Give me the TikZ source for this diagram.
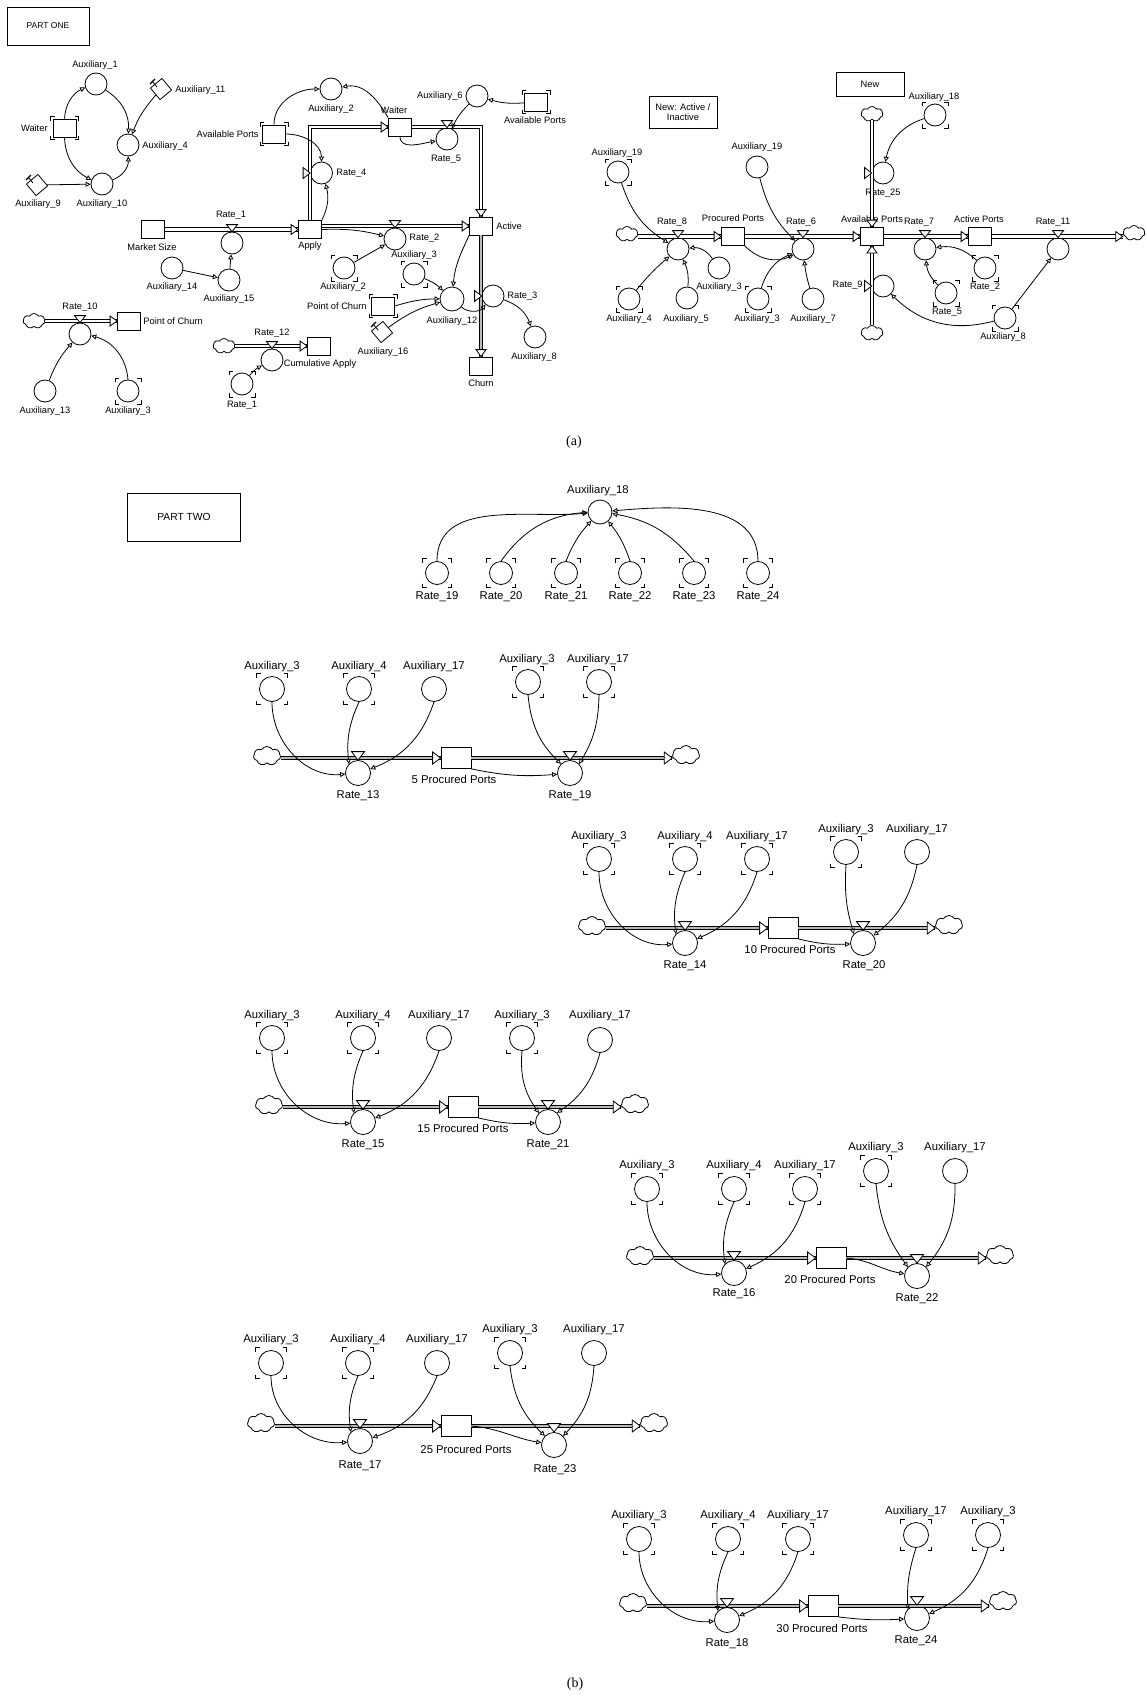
\documentclass[tikz,border=0pt]{standalone}
\usepackage{fontspec}
\setmainfont{Liberation Sans}
\newfontfamily\capfont{Liberation Serif}
\usetikzlibrary{arrows.meta,shapes.symbols,shapes.geometric,calc}
\newcommand\shmark[3]{%
  \begin{scope}[shift={(#1)}]
    \draw[brk] (-#2,-#3+4) -- (-#2,-#3) -- (-#2+4,-#3);
    \draw[brk] (#2,-#3+4) -- (#2,-#3) -- (#2-4,-#3);
    \draw[brk] (-#2,#3-4) -- (-#2,#3) -- (-#2+4,#3);
    \draw[brk] (#2,#3-4) -- (#2,#3) -- (#2-4,#3);
  \end{scope}}
\newcommand\pinon[1]{%
  \draw[line width=0.8pt] ($(#1)+(-9,-8)$) -- ($(#1)+(-4,-2)$);
  \draw[line width=1.4pt] ($(#1)+(-11,-5)$) -- ($(#1)+(-6,-10)$);}
\tikzset{
  every node/.style={inner sep=0pt},
  aux/.style={circle, draw, minimum size=22pt, fill=white},
  auxb/.style={circle, draw, minimum size=25pt, fill=white},
  stk/.style={rectangle, draw, minimum width=23pt, minimum height=18pt, fill=white},
  stkb/.style={rectangle, draw, minimum width=30pt, minimum height=21pt, fill=white},
  dia/.style={rectangle, draw, minimum size=15pt, rotate=40, fill=white},
  cld/.style={cloud, cloud puffs=7, cloud puff arc=120, aspect=1.5, draw, minimum width=22pt, minimum height=15pt, fill=white},
  cldb/.style={cld, minimum width=27pt, minimum height=19pt},
  frm/.style={rectangle, draw},
  lb/.style={font=\fontsize{9.3}{11}\selectfont},
  lbb/.style={font=\fontsize{11.3}{13}\selectfont},
  inf/.style={-{Triangle[open, length=5pt, width=5pt]}},
  pipe/.style={double distance=2.6pt},
  pipeg/.style={double=gray!55, double distance=2.8pt},
  valve/.style={draw, fill=white},
  brk/.style={line width=0.9pt},
  vd/.pic={\draw[valve] (-5.5,-7) -- (5.5,-7) -- (0,0) -- cycle;},
  vdb/.pic={\draw[valve] (-6.5,-8.5) -- (6.5,-8.5) -- (0,0) -- cycle;},
  vr/.pic={\draw[valve] (-7,-5.5) -- (-7,5.5) -- (0,0) -- cycle;},
  tipr/.pic={\draw[valve] (0,0) -- (-7,-5) -- (-7,5) -- cycle;},
  tiprb/.pic={\draw[valve] (0,0) -- (-8,-6) -- (-8,6) -- cycle;},
}
\begin{document}
\begin{tikzpicture}[x=1pt, y=-1pt, line width=0.8pt]
\fill[white] (0,0) rectangle (1146,1700);
\useasboundingbox (0,0) rectangle (1146,1700);

% ================= PART ONE, left =================
\node[frm, minimum width=82pt, minimum height=38pt, font=\fontsize{8.5}{10}\selectfont] (p1) at (48,26) {PART ONE};
\node[aux] (a1) at (96,84) {}; \node[lb] (la1) at (95,65) {Auxiliary\_1};
\node[dia] (a11) at (161,89) {}; \node[lb, anchor=west] (la11) at (175,90) {Auxiliary\_11};
\node[stk] (w1) at (64.5,128) {}; \node[lb, anchor=east] (lw1) at (48,128) {Waiter};
\node[aux] (a4) at (128,145) {}; \node[lb, anchor=west] (la4) at (142,146) {Auxiliary\_4};
\node[dia] (a9) at (37,185) {}; \node[lb] (la9) at (38,204) {Auxiliary\_9};
\node[aux] (a10) at (102,184) {}; \node[lb] (la10) at (102,204) {Auxiliary\_10};

\node[stk] (ap1) at (274,134) {}; \node[lb, anchor=east] (lap1) at (259,134) {Available Ports};
\node[aux] (a2t) at (331,89) {}; \node[lb] (la2t) at (331,109) {Auxiliary\_2};
\node[stk] (w2) at (400,127) {}; \node[lb] (lw2) at (394,110) {Waiter};
\node[aux] (r4) at (321.5,173) {}; \node[lb, anchor=west] (lr4) at (336,173) {Rate\_4};
\node[stk] (ms) at (153,229.5) {}; \node[lb] (lms) at (152,247) {Market Size};
\node[aux] (r1) at (232,243) {}; \node[lb] (lr1) at (231,215) {Rate\_1};
\node[stk] (apply) at (310,229.5) {}; \node[lb] (lapply) at (310,246) {Apply};
\node[aux] (a14) at (172,268) {}; \node[lb] (la14) at (172,287) {Auxiliary\_14};
\node[aux] (a15) at (229,280) {}; \node[lb] (la15) at (229,299) {Auxiliary\_15};
\node[aux] (r2) at (395,239) {}; \node[lb, anchor=west] (lr2) at (409,238) {Rate\_2};
\node[aux] (a2b) at (344,268) {}; \node[lb] (la2b) at (343,287) {Auxiliary\_2};
\node[aux] (a3a) at (414,274) {}; \node[lb] (la3a) at (414,255) {Auxiliary\_3};
\node[stk] (act) at (481,226) {}; \node[lb, anchor=west] (lact) at (496,226) {Active};
\node[aux] (r5) at (447,139) {}; \node[lb] (lr5) at (446,159) {Rate\_5};
\node[aux] (a6) at (477,96) {}; \node[lb, anchor=east] (la6) at (463,96) {Auxiliary\_6};
\node[stk] (ap2) at (536,102) {}; \node[lb] (lap2) at (535,120) {Available Ports};
\node[aux] (r3) at (493,296) {}; \node[lb, anchor=west] (lr3) at (507,296) {Rate\_3};
\node[stk] (churn) at (481,366) {}; \node[lb] (lchurn) at (481,383) {Churn};
\node[aux, minimum size=24pt] (a12) at (452,299) {}; \node[lb] (la12) at (452,321) {Auxiliary\_12};
\node[aux] (a8) at (535,337) {}; \node[lb] (la8) at (534,357) {Auxiliary\_8};
\node[stk] (poc2) at (383,306) {}; \node[lb, anchor=east] (lpoc2) at (367,306) {Point of Churn};
\node[dia] (a16) at (382,332) {}; \node[lb] (la16) at (383,352) {Auxiliary\_16};

\node[cld] (c10) at (34,321) {};
\node[aux] (r10) at (80,334) {}; \node[lb] (lr10) at (80,307) {Rate\_10};
\node[stk] (poc1) at (129,321) {}; \node[lb, anchor=west] (lpoc1) at (143,321) {Point of Churn};
\node[aux] (a13) at (45,391) {}; \node[lb] (la13) at (45,411) {Auxiliary\_13};
\node[aux] (a3c) at (128,391) {}; \node[lb] (la3c) at (128,411) {Auxiliary\_3};

\node[cld] (c12) at (224,346) {};
\node[stk] (cum) at (319,346) {};
\node[aux] (r12) at (272,360) {}; \node[lb] (lr12) at (272,333) {Rate\_12};
\node[lb] (lcum) at (320,364) {Cumulative Apply};
\node[aux] (r1b) at (242,384) {}; \node[lb] (lr1b) at (242,405) {Rate\_1};

% ================= PART ONE, right =================
\node[frm, minimum width=68pt, minimum height=32pt, align=center, font=\fontsize{9.3}{10.5}\selectfont] (nai) at (683,112) {New: Active /\\Inactive};
\node[frm, minimum width=68pt, minimum height=24pt, lb] (nw) at (870,84) {New};
\node[cld] (ct) at (872,114) {};
\node[aux] (r25) at (883,173) {}; \node[lb] (lr25) at (883,193) {Rate\_25};
\node[aux] (a18) at (935,115) {}; \node[lb] (la18) at (934,97) {Auxiliary\_18};
\node[stk] (avp) at (872,236.5) {}; \node[lb] (lavp) at (872,219) {Available Ports};
\node[cld] (cl) at (627,234) {};
\node[aux] (r8) at (678,249) {}; \node[lb] (lr8) at (672,222) {Rate\_8};
\node[stk] (pp) at (733,236.5) {}; \node[lb] (lpp) at (733,218) {Procured Ports};
\node[aux] (r6) at (803,249) {}; \node[lb] (lr6) at (801,222) {Rate\_6};
\node[aux] (a19a) at (618,172) {}; \node[lb] (la19a) at (617,153) {Auxiliary\_19};
\node[aux] (a19b) at (757,167) {}; \node[lb] (la19b) at (757,147) {Auxiliary\_19};
\node[aux] (a4r) at (629,299) {}; \node[lb] (la4r) at (629,319) {Auxiliary\_4};
\node[aux] (a5) at (687,298) {}; \node[lb] (la5) at (686,319) {Auxiliary\_5};
\node[aux] (a3r) at (719,268) {}; \node[lb] (la3r) at (719,287) {Auxiliary\_3};
\node[aux] (a3s) at (758,299) {}; \node[lb] (la3s) at (757,319) {Auxiliary\_3};
\node[aux] (a7) at (813,299) {}; \node[lb] (la7) at (813,319) {Auxiliary\_7};
\node[cld] (cb) at (872,333) {};
\node[aux] (r9) at (883,286) {}; \node[lb, anchor=east] (lr9) at (863,285) {Rate\_9};
\node[aux] (r7) at (925,249) {}; \node[lb] (lr7) at (919,222) {Rate\_7};
\node[stk] (apt) at (980,236.5) {}; \node[lb] (lapt) at (979,219) {Active Ports};
\node[aux] (r11) at (1058,249) {}; \node[lb] (lr11) at (1053,222) {Rate\_11};
\node[cld] (cr) at (1134,233) {};
\node[aux] (r2s) at (985,268) {}; \node[lb] (lr2s) at (985,287) {Rate\_2};
\node[aux] (r5s) at (946,293) {}; \node[lb] (lr5s) at (947,312) {Rate\_5};
\node[aux] (a8s) at (1005,318) {}; \node[lb] (la8s) at (1003,337) {Auxiliary\_8};

\node[font=\capfont\fontsize{14}{16}\selectfont] (capa) at (574,442) {(a)};

% ---- pipes part one
\draw[pipe] (ms.east) -- (apply.west);
\draw[pipe] (apply.east |- act.west) -- (act.west);
\draw[pipe] (apply.north) -- (apply.north |- w2.west) -- (w2.west);
\draw[pipe] (w2.east) -- (w2.east -| act.north) -- (act.north);
\draw[pipeg] (act.south) -- (churn.north);
\draw[pipe] (c10.east |- poc1.west) -- (poc1.west);
\draw[pipe] (c12.east |- cum.west) -- (cum.west);
\draw[pipe] (cl.east |- pp.west) -- (pp.west);
\draw[pipe] (pp.east) -- (avp.west);
\draw[pipe] (avp.east) -- (apt.west);
\draw[pipe] (apt.east) -- (cr.west |- apt.east);
\draw[pipe] (ct.south -| avp.north) -- (avp.north);
\draw[pipe] (cb.north -| avp.south) -- (avp.south);

\pic at (apply.west) {tipr};
\pic at (act.west) {tipr};
\pic at (w2.west) {tipr};
\pic[rotate=-90] at (act.north) {tipr};
\pic[rotate=-90] at (churn.north) {tipr};
\pic at (poc1.west) {tipr};
\pic at (cum.west) {tipr};
\pic at (pp.west) {tipr};
\pic at (avp.west) {tipr};
\pic at (apt.west) {tipr};
\pic at (cr.west |- apt.east) {tipr};
\pic[rotate=-90] at (avp.north) {tipr};
\pic[rotate=90] at (avp.south) {tipr};

\foreach \v in {r1,r2,r5,r10,r12,r8,r6,r7,r11} {\pic at (\v.north) {vd};}
\foreach \v in {r4,r3,r25,r9} {\pic at (\v.west) {vr};}

% ---- connectors part one
\draw[inf] (w1.north) to[bend left=30] (a1);
\draw[inf] (w1.south) to[bend right=30] (a10);
\draw[inf] (a1) to[bend left=30] (a4);
\draw[inf] (a11) to[bend right=10] (a4);
\draw[inf] (a9) -- (a10);
\draw[inf] (a10) to[bend right=35] (a4);
\draw[inf] (ap1.north) to[out=90,in=180] (a2t);
\draw[inf] (w2.north west) to[out=120,in=10] (a2t);
\draw[inf] (ap1.east) to[out=0,in=90] (r4);
\draw[inf] (apply.north east) to[bend right=20] (r4);
\draw[inf] (a14) -- (a15);
\draw[inf] (a15) -- (r1);
\draw[inf] (apply.east) to[bend left=8] (r2);
\draw[inf] (a2b) -- (r2);
\draw[inf] (ap2) to[bend left=10] (a6);
\draw[inf] (a6) to[bend right=10] (r5);
\draw[inf] (w2.south) to[out=-90,in=190] (r5);
\draw[inf] (act.south west) to[out=-115,in=85] (a12);
\draw[inf] (a3a) to[bend left=10] (a12);
\draw[inf] (poc2.east) to[bend left=8] (a12);
\draw[inf] (a16) to[bend left=10] (a12);
\draw[inf] (a12) to[bend right=45] (r3);
\draw[inf] (r3) to[bend left=25] (a8);
\draw[inf] (a13) to[bend left=10] (r10);
\draw[inf] (a3c.north) to[bend right=35] (r10);
\draw[inf] (r1b) to[bend left=10] (r12);

\draw[inf] (a18) to[bend right=30] (r25);
\draw[inf] (a19a) to[bend right=20] (r8);
\draw[inf] (a4r) to[bend left=5] (r8);
\draw[inf] (a5) to[bend right=15] (r8);
\draw[inf] (a3r) to[bend right=30] (r8);
\draw[inf] (a19b) to[bend right=15] (r6);
\draw[inf] (pp.south east) to[bend right=35] (r6);
\draw[inf] (a3s) to[bend left=25] (r6);
\draw[inf] (a7) to[bend left=5] (r6);
\draw[inf] (r2s) to[bend right=25] (r7);
\draw[inf] (r5s) to[bend left=20] (r7);
\draw[inf] (a8s) -- (r11);
\draw[inf] (a8s) to[bend left=30] (r9);

\pinon{a11} \pinon{a9} \pinon{a16}
\shmark{w1}{14}{11.5} \shmark{ap1}{14}{11.5} \shmark{ap2}{14}{11.5} \shmark{poc2}{14}{11.5}
\foreach \v in {a2b,a3a,a3c,r1b,a19a,a4r,a3s,a18,r2s,r5s,a8s} {\shmark{\v}{13}{13}}

% ================= PART TWO =================
\node[frm, minimum width=113pt, minimum height=48pt, font=\fontsize{10.3}{12}\selectfont] (p2) at (184,517) {PART TWO};
\node[aux, minimum size=24pt] (a18p) at (600,512) {}; \node[lbb] (la18p) at (598,491) {Auxiliary\_18};
\foreach \n/\x in {19/437,20/501,21/566,22/630,23/694,24/758} {
  \node[aux, minimum size=23pt] (rr\n) at (\x,573) {};
  \node[lbb] (lrr\n) at (\x,597) {Rate\_\n};
  \shmark{rr\n}{14.5}{14.5}
}
\draw[inf] (rr19.north) to[out=90,in=185] (a18p);
\draw[inf] (rr20.north) to[bend left=25] (a18p);
\draw[inf] (rr21.north) to[bend left=10] (a18p);
\draw[inf] (rr22.north) to[bend right=10] (a18p);
\draw[inf] (rr23.north) to[bend right=20] (a18p);
\draw[inf] (rr24.north) to[out=90,in=5] (a18p);

% ---- Block A : 5 Procured Ports
\node[cldb] (cLA) at (267,756) {};
\node[cldb] (cRA) at (686,755) {};
\node[stkb] (sA) at (456,758) {}; \node[lbb] (lsA) at (454,779) {5 Procured Ports};
\node[auxb] (r13) at (358,773) {}; \node[lbb] (lr13) at (358,796) {Rate\_13};
\node[auxb] (r19) at (570,773) {}; \node[lbb] (lr19) at (570,796) {Rate\_19};
\node[auxb] (x3A) at (272,689) {}; \node[lbb] (lx3A) at (272,667) {Auxiliary\_3};
\node[auxb] (x4A) at (359,689) {}; \node[lbb] (lx4A) at (359,667) {Auxiliary\_4};
\node[auxb] (x17A) at (434,689) {}; \node[lbb] (lx17A) at (434,667) {Auxiliary\_17};
\node[auxb] (y3A) at (528,682) {}; \node[lbb] (ly3A) at (527,660) {Auxiliary\_3};
\node[auxb] (y17A) at (599,682) {}; \node[lbb] (ly17A) at (598,660) {Auxiliary\_17};
\draw[pipeg] (cLA.east |- sA.west) -- (sA.west);
\draw[pipeg] (sA.east) -- (cRA.west |- sA.east);
\pic at (sA.west) {tiprb}; \pic at (cRA.west |- sA.east) {tiprb};
\pic at (r13.north) {vdb}; \pic at (r19.north) {vdb};
\draw[inf] (x3A.south) to[out=-90,in=185] (r13);
\draw[inf] (x4A.south) to[bend right=15] (r13.north west);
\draw[inf] (x17A.south) to[bend left=25] (r13);
\draw[inf] (y3A.south) to[bend right=20] (r19.north west);
\draw[inf] (y17A.south) to[bend left=15] (r19.north east);
\draw[inf] (sA.south east) to[bend right=8] (r19);
\foreach \v in {x3A,x4A,y3A,y17A} {\shmark{\v}{15.5}{15.5}}

% ---- Block B : 10 Procured Ports
\node[cldb] (cLB) at (592,926) {};
\node[cldb] (cRB) at (949,925) {};
\node[stkb] (sB) at (783,928) {}; \node[lbb] (lsB) at (790,949) {10 Procured Ports};
\node[auxb] (r14) at (685,943) {}; \node[lbb] (lr14) at (685,966) {Rate\_14};
\node[auxb] (r20) at (863,943) {}; \node[lbb] (lr20) at (864,966) {Rate\_20};
\node[auxb] (x3B) at (599,859) {}; \node[lbb] (lx3B) at (599,837) {Auxiliary\_3};
\node[auxb] (x4B) at (685,859) {}; \node[lbb] (lx4B) at (685,837) {Auxiliary\_4};
\node[auxb] (x17B) at (757,859) {}; \node[lbb] (lx17B) at (757,837) {Auxiliary\_17};
\node[auxb] (y3B) at (846,852) {}; \node[lbb] (ly3B) at (846,830) {Auxiliary\_3};
\node[auxb] (y17B) at (917,852) {}; \node[lbb] (ly17B) at (917,830) {Auxiliary\_17};
\draw[pipeg] (cLB.east |- sB.west) -- (sB.west);
\draw[pipeg] (sB.east) -- (cRB.west |- sB.east);
\pic at (sB.west) {tiprb}; \pic at (cRB.west |- sB.east) {tiprb};
\pic at (r14.north) {vdb}; \pic at (r20.north) {vdb};
\draw[inf] (x3B.south) to[out=-90,in=185] (r14);
\draw[inf] (x4B.south) to[bend right=15] (r14.north west);
\draw[inf] (x17B.south) to[bend left=25] (r14);
\draw[inf] (y3B.south) to[bend right=10] (r20.north west);
\draw[inf] (y17B.south) to[bend left=20] (r20);
\draw[inf] (sB.south east) to[bend right=8] (r20);
\foreach \v in {x3B,x4B,x17B,y3B} {\shmark{\v}{15.5}{15.5}}

% ---- Block C : 15 Procured Ports
\node[cldb] (cLC) at (269,1105) {};
\node[cldb] (cRC) at (635,1104) {};
\node[stkb] (sC) at (463,1107) {}; \node[lbb] (lsC) at (463,1128) {15 Procured Ports};
\node[auxb] (r15) at (363,1122) {}; \node[lbb] (lr15) at (363,1145) {Rate\_15};
\node[auxb] (r21) at (548,1122) {}; \node[lbb] (lr21) at (548,1145) {Rate\_21};
\node[auxb] (x3C) at (272,1038) {}; \node[lbb] (lx3C) at (272,1016) {Auxiliary\_3};
\node[auxb] (x4C) at (363,1038) {}; \node[lbb] (lx4C) at (363,1016) {Auxiliary\_4};
\node[auxb] (x17C) at (439,1038) {}; \node[lbb] (lx17C) at (439,1016) {Auxiliary\_17};
\node[auxb] (y3C) at (522,1038) {}; \node[lbb] (ly3C) at (522,1016) {Auxiliary\_3};
\node[auxb] (y17C) at (600,1040) {}; \node[lbb] (ly17C) at (600,1016) {Auxiliary\_17};
\draw[pipeg] (cLC.east |- sC.west) -- (sC.west);
\draw[pipeg] (sC.east) -- (cRC.west |- sC.east);
\pic at (sC.west) {tiprb}; \pic at (cRC.west |- sC.east) {tiprb};
\pic at (r15.north) {vdb}; \pic at (r21.north) {vdb};
\draw[inf] (x3C.south) to[out=-90,in=185] (r15);
\draw[inf] (x4C.south) to[bend right=15] (r15.north west);
\draw[inf] (x17C.south) to[bend left=25] (r15);
\draw[inf] (y3C.south) to[bend right=20] (r21.north west);
\draw[inf] (y17C.south) to[bend left=20] (r21.north east);
\draw[inf] (sC.south east) to[bend right=8] (r21);
\foreach \v in {x3C,x4C,y3C} {\shmark{\v}{15.5}{15.5}}

% ---- Block D : 20 Procured Ports
\node[cldb] (cLD) at (640,1256) {};
\node[cldb] (cRD) at (1000,1255) {};
\node[stkb] (sD) at (831,1258) {}; \node[lbb] (lsD) at (830,1279) {20 Procured Ports};
\node[auxb] (r16) at (734,1273) {}; \node[lbb] (lr16) at (734,1294) {Rate\_16};
\node[auxb] (r22) at (917,1276) {}; \node[lbb] (lr22) at (917,1299) {Rate\_22};
\node[auxb] (x3D) at (647,1189) {}; \node[lbb] (lx3D) at (647,1166) {Auxiliary\_3};
\node[auxb] (x4D) at (734,1189) {}; \node[lbb] (lx4D) at (734,1166) {Auxiliary\_4};
\node[auxb] (x17D) at (805,1189) {}; \node[lbb] (lx17D) at (805,1166) {Auxiliary\_17};
\node[auxb] (y3D) at (876,1171) {}; \node[lbb] (ly3D) at (876,1148) {Auxiliary\_3};
\node[auxb] (y17D) at (955,1171) {}; \node[lbb] (ly17D) at (955,1148) {Auxiliary\_17};
\draw[pipeg] (cLD.east |- sD.west) -- (sD.west);
\draw[pipeg] (sD.east) -- (cRD.west |- sD.east);
\pic at (sD.west) {tiprb}; \pic at (cRD.west |- sD.east) {tiprb};
\pic at (r16.north) {vdb}; \pic at (r22.north) {vdb};
\draw[inf] (x3D.south) to[out=-90,in=185] (r16);
\draw[inf] (x4D.south) to[bend right=15] (r16.north west);
\draw[inf] (x17D.south) to[bend left=25] (r16);
\draw[inf] (y3D.south) to[bend right=15] (r22.north west);
\draw[inf] (y17D.south) to[bend left=20] (r22.north east);
\draw[inf] (sD.east) to[out=-5,in=170] (r22);
\foreach \v in {x3D,x4D,x17D,y3D} {\shmark{\v}{15.5}{15.5}}

% ---- Block E : 25 Procured Ports
\node[cldb] (cLE) at (261,1423) {};
\node[cldb] (cRE) at (654,1423) {};
\node[stkb] (sE) at (456,1426) {}; \node[lbb] (lsE) at (466,1449) {25 Procured Ports};
\node[auxb] (r17) at (360,1441) {}; \node[lbb] (lr17) at (360,1466) {Rate\_17};
\node[auxb] (r23) at (554,1445) {}; \node[lbb] (lr23) at (555,1470) {Rate\_23};
\node[auxb] (x3E) at (271,1363) {}; \node[lbb] (lx3E) at (271,1340) {Auxiliary\_3};
\node[auxb] (x4E) at (358,1363) {}; \node[lbb] (lx4E) at (358,1340) {Auxiliary\_4};
\node[auxb] (x17E) at (437,1363) {}; \node[lbb] (lx17E) at (437,1340) {Auxiliary\_17};
\node[auxb] (y3E) at (510,1353) {}; \node[lbb] (ly3E) at (510,1330) {Auxiliary\_3};
\node[auxb] (y17E) at (594,1353) {}; \node[lbb] (ly17E) at (594,1330) {Auxiliary\_17};
\draw[pipeg] (cLE.east |- sE.west) -- (sE.west);
\draw[pipeg] (sE.east) -- (cRE.west |- sE.east);
\pic at (sE.west) {tiprb}; \pic at (cRE.west |- sE.east) {tiprb};
\pic at (r17.north) {vdb}; \pic at (r23.north) {vdb};
\draw[inf] (x3E.south) to[out=-90,in=185] (r17);
\draw[inf] (x4E.south) to[bend right=15] (r17.north west);
\draw[inf] (x17E.south) to[bend left=25] (r17);
\draw[inf] (y3E.south) to[bend right=20] (r23.north west);
\draw[inf] (y17E.south) to[bend left=20] (r23.north east);
\draw[inf] (sE.east) to[out=-5,in=170] (r23);
\foreach \v in {x3E,x4E,y3E} {\shmark{\v}{15.5}{15.5}}

% ---- Block F : 30 Procured Ports
\node[cldb] (cLF) at (633,1603) {};
\node[cldb] (cRF) at (1003,1601) {};
\node[stkb] (sF) at (823,1606) {}; \node[lbb] (lsF) at (822,1628) {30 Procured Ports};
\node[auxb] (r18) at (727,1620) {}; \node[lbb] (lr18) at (727,1644) {Rate\_18};
\node[auxb] (r24) at (917,1618) {}; \node[lbb] (lr24) at (916,1641) {Rate\_24};
\node[auxb] (x3F) at (639,1539) {}; \node[lbb] (lx3F) at (639,1516) {Auxiliary\_3};
\node[auxb] (x4F) at (728,1539) {}; \node[lbb] (lx4F) at (728,1516) {Auxiliary\_4};
\node[auxb] (x17F) at (798,1539) {}; \node[lbb] (lx17F) at (798,1516) {Auxiliary\_17};
\node[auxb] (y17F) at (916,1535) {}; \node[lbb] (ly17F) at (916,1512) {Auxiliary\_17};
\node[auxb] (y3F) at (988,1535) {}; \node[lbb] (ly3F) at (988,1512) {Auxiliary\_3};
\draw[pipeg] (cLF.east |- sF.west) -- (sF.west);
\draw[pipeg] (sF.east) -- (cRF.west |- sF.east);
\pic at (sF.west) {tiprb}; \pic at (cRF.west |- sF.east) {tiprb};
\pic at (r18.north) {vdb}; \pic at (r24.north) {vdb};
\draw[inf] (x3F.south) to[out=-90,in=185] (r18);
\draw[inf] (x4F.south) to[bend right=15] (r18.north west);
\draw[inf] (x17F.south) to[bend left=25] (r18);
\draw[inf] (y17F.south) to[bend right=10] (r24.north west);
\draw[inf] (y3F.south) to[bend left=25] (r24);
\draw[inf] (sF.south east) to[bend right=5] (r24);
\foreach \v in {x3F,x4F,x17F,y17F,y3F} {\shmark{\v}{15.5}{15.5}}

\node[font=\capfont\fontsize{14}{16}\selectfont] (capb) at (575,1684) {(b)};
\end{tikzpicture}
\end{document}
